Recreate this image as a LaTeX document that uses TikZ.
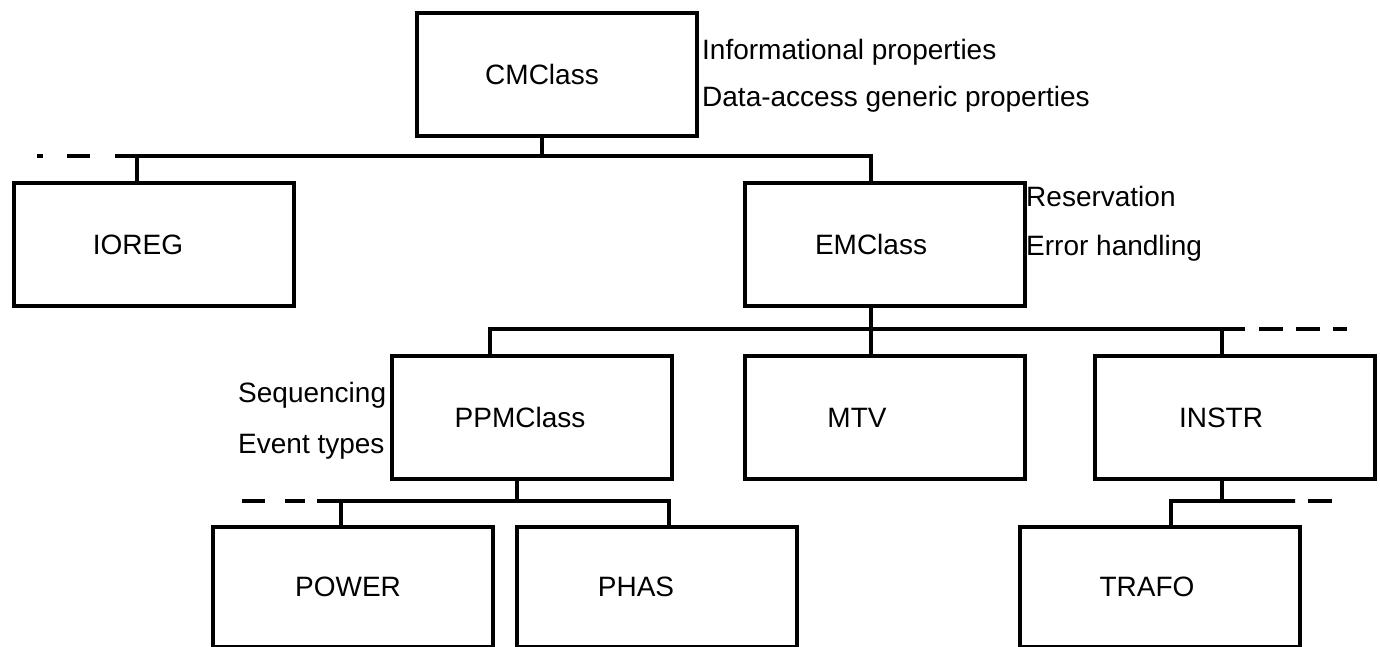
\documentclass[tikz,border=0pt]{standalone}
\usepackage{fontspec}
\setmainfont{Liberation Sans}
\begin{document}
\begin{tikzpicture}[x=1pt,y=-1pt,
  box/.style={draw, line width=4pt, minimum width=280pt, minimum height=123pt,
              anchor=north west, inner sep=0pt},
  lowbox/.style={box, minimum height=120pt},
  lbl/.style={font=\fontsize{28}{30}\selectfont, inner sep=0pt},
  note/.style={font=\fontsize{28}{30}\selectfont, anchor=base west, inner sep=0pt},
  link/.style={line width=4pt},
  cap/.style={line width=4pt, line cap=rect}]
\useasboundingbox (0,0) rectangle (1380,647);

% class boxes
\node[box, label={[lbl, xshift=-15pt]center:CMClass}]  (cm)  at (415,11)  {};
\node[box, label={[lbl, xshift=-16pt]center:IOREG}]    (io)  at (12,181)  {};
\node[box, label={[lbl, xshift=-14pt]center:EMClass}]  (em)  at (743,181) {};
\node[box, label={[lbl, xshift=-12pt]center:PPMClass}] (ppm) at (390,354) {};
\node[box, label={[lbl, xshift=-28pt]center:MTV}]      (mtv) at (743,354) {};
\node[box, label={[lbl, xshift=-14pt]center:INSTR}]    (ins) at (1093,354) {};
\node[lowbox, label={[lbl, xshift=-5pt]center:POWER}]  (pow) at (211,525) {};
\node[lowbox, label={[lbl, xshift=-21pt]center:PHAS}]  (pha) at (515,525) {};
\node[lowbox, label={[lbl, xshift=-13pt]center:TRAFO}] (tra) at (1018,525) {};

% property notes
\node[note] (n1) at (702,60)  {Informational properties};
\node[note] (n2) at (702,107) {Data-access generic properties};
\node[note] (n3) at (1026,206) {Reservation};
\node[note] (n4) at (1026,255) {Error handling};
\node[note] (n5) at (238,402) {Sequencing};
\node[note] (n6) at (238,453) {Event types};

% first level: CMClass -> IOREG, EMClass
\coordinate (a0) at (542,156);
\coordinate (aL) at (115,156);
\coordinate (aI) at (137,156);
\coordinate (aE) at (871,156);
\coordinate (aD) at (37,156);
\draw[link] (cm.south -| a0) -- (a0);
\draw[link] (aL) -- (aE) -- (aE |- em.north);
\draw[link] (aI) -- (aI |- io.north);
\draw[link, dash pattern=on 6pt off 24pt on 23pt off 25pt] (aD) -- (aL);

% second level: EMClass -> PPMClass, MTV, INSTR
\coordinate (b0) at (871,329);
\coordinate (bL) at (490,329);
\coordinate (bI) at (1222,329);
\coordinate (bR) at (1245,329);
\coordinate (bD) at (1347,329);
\draw[link] (em.south -| b0) -- (b0);
\draw[link] (bL |- ppm.north) -- (bL) -- (bR);
\draw[link] (b0) -- (b0 |- mtv.north);
\draw[link] (bI) -- (bI |- ins.north);
\draw[link, dash pattern=on 14pt off 13pt on 24pt off 13pt on 24pt off 14pt] (bD) -- (bR);

% third level: PPMClass -> POWER, PHAS
\coordinate (c0) at (517,501);
\coordinate (cL) at (317,501);
\coordinate (cP) at (341,501);
\coordinate (cR) at (669,501);
\coordinate (cD) at (242,501);
\draw[link] (ppm.south -| c0) -- (c0);
\draw[link] (cL) -- (cR) -- (cR |- pha.north);
\draw[link] (cP) -- (cP |- pow.north);
\draw[link, dash pattern=on 23pt off 20pt on 20pt off 12pt] (cD) -- (cL);

% third level: INSTR -> TRAFO
\coordinate (d0) at (1222,501);
\coordinate (dT) at (1171,501);
\coordinate (dR) at (1295,501);
\coordinate (dD) at (1332,501);
\draw[link] (ins.south -| d0) -- (d0);
\draw[link] (dT |- tra.north) -- (dT) -- (dR);
\draw[link, dash pattern=on 24pt off 13pt] (dD) -- (dR);
\end{tikzpicture}
\end{document}
